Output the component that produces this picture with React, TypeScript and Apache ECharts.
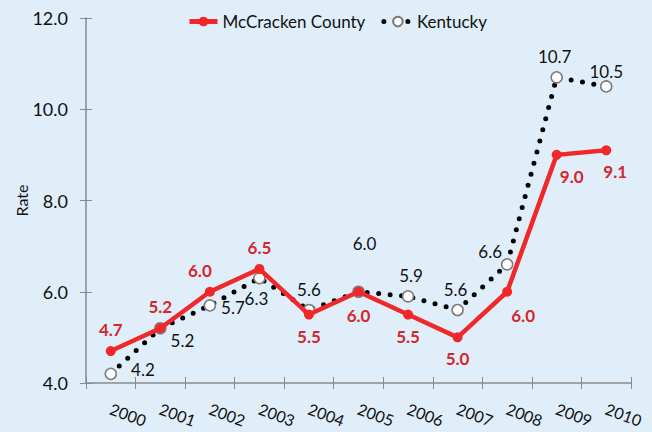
import React, { useEffect, useRef } from "react";
import * as echarts from "echarts";

const years = ["2000", "2001", "2002", "2003", "2004", "2005", "2006", "2007", "2008", "2009", "2010"];
const mccracken = [4.7, 5.2, 6.0, 6.5, 5.5, 6.0, 5.5, 5.0, 6.0, 9.0, 9.1];
const kentucky = [4.2, 5.2, 5.7, 6.3, 5.6, 6.0, 5.9, 5.6, 6.6, 10.7, 10.5];
const yTicks = [4, 6, 8, 10, 12];

// label placement (style, not data)
const mcLabelPos: [string, number, number][] = [
  ["top", 0, 0], ["top", 0, 0], ["top", -10, 0], ["top", 0, 0], ["bottom", 0, 0],
  ["bottom", 0, 2], ["bottom", 0, 0], ["bottom", 0, 0], ["bottom", 16, 2], ["bottom", 15, 0], ["bottom", 9, 0],
];
const kyLabelPos: [string, number, number][] = [
  ["right", 8, -4], ["right", -2, 12], ["right", -1, 2], ["bottom", -3, 0], ["top", 0, 0],
  ["top", 6, -28], ["top", 3, 0], ["top", -2, 0], ["top", -17, 8], ["top", -2, 0], ["top", 0, 6],
];

const FONT = "Lato, 'Noto Sans', sans-serif";

export default function App() {
  const ref = useRef<HTMLDivElement>(null);
  useEffect(() => {
    if (!ref.current) return;
    const chart = echarts.init(ref.current, null, { renderer: "svg" });
    const axisColor = "#8a8a8a";
    chart.setOption({
      animation: false,
      backgroundColor: "#e0eefa",
      textStyle: { fontFamily: FONT },
      legend: {
        top: 8,
        left: 182,
        itemWidth: 28,
        itemHeight: 12,
        itemGap: 16,
        textStyle: { fontSize: 17, color: "#111", fontFamily: FONT },
        data: [
          {
            name: "McCracken County",
            lineStyle: { color: "#f0282a", width: 5 },
          },
          {
            name: "Kentucky",
            lineStyle: { color: "#000", width: 5, type: [0, 12], cap: "round" },
          },
        ],
      },
      grid: { left: 86, right: 21, top: 18, bottom: 49 },
      xAxis: [
        {
          type: "category",
          data: years,
          boundaryGap: true,
          axisLine: { lineStyle: { color: axisColor, width: 1.5 } },
          axisTick: { show: true, length: 6, lineStyle: { color: axisColor } },
          axisLabel: {
            interval: 0,
            rotate: -20,
            margin: 25,
            fontSize: 16,
            color: "#111",
            fontFamily: FONT,
          },
        },
        {
          type: "category",
          data: years,
          position: "bottom",
          boundaryGap: true,
          axisLine: { show: false },
          axisTick: { show: true, inside: true, length: 6, lineStyle: { color: axisColor } },
          axisLabel: { show: false },
        },
      ],
      yAxis: [
        {
          type: "value",
          min: yTicks[0],
          max: yTicks[yTicks.length - 1],
          interval: 2,
          name: "Rate",
          nameLocation: "middle",
          nameGap: 57,
          nameMoveOverlap: false,
          nameTextStyle: { fontSize: 16, color: "#111", fontFamily: FONT },
          splitLine: { show: false },
          axisLine: { show: true, lineStyle: { color: axisColor, width: 1.5 } },
          axisTick: { show: true, length: 6, lineStyle: { color: axisColor } },
          axisLabel: {
            margin: 18,
            fontSize: 18,
            color: "#111",
            fontFamily: FONT,
            formatter: (v: number) => v.toFixed(1),
          },
        },
        {
          type: "value",
          min: yTicks[0],
          max: yTicks[yTicks.length - 1],
          interval: 2,
          position: "left",
          splitLine: { show: false },
          axisLine: { show: false },
          axisTick: { show: true, inside: true, length: 6, lineStyle: { color: axisColor } },
          axisLabel: { show: false },
        },
      ],
      series: [
        {
          name: "Kentucky",
          type: "line",
          z: 2,
          data: kentucky.map((v, i) => ({
            value: v,
            label: {
              position: kyLabelPos[i][0],
              offset: [kyLabelPos[i][1], kyLabelPos[i][2]],
            },
          })),
          symbol: "circle",
          symbolSize: 11,
          lineStyle: { color: "#000", width: 5, type: [0, 11.5], cap: "round" },
          itemStyle: { color: "#ffffff", borderColor: "#7a7a7a", borderWidth: 1.5 },
          label: {
            show: true,
            fontSize: 17,
            color: "#111",
            fontFamily: FONT,
            distance: 6,
            formatter: (p: any) => Number(p.value).toFixed(1),
          },
        },
        {
          name: "McCracken County",
          type: "line",
          z: 3,
          data: mccracken.map((v, i) => ({
            value: v,
            label: {
              position: mcLabelPos[i][0],
              offset: [mcLabelPos[i][1], mcLabelPos[i][2]],
            },
          })),
          symbol: "circle",
          symbolSize: 10,
          lineStyle: { color: "#f0282a", width: 4.5 },
          itemStyle: { color: "#f0282a" },
          label: {
            show: true,
            fontSize: 17,
            fontWeight: "bold",
            color: "#d4262d",
            fontFamily: FONT,
            distance: 8,
            formatter: (p: any) => Number(p.value).toFixed(1),
          },
        },
      ],
    });
    return () => chart.dispose();
  }, []);
  return <div ref={ref} style={{ width: 652, height: 432, position: "absolute", left: 0, top: 0 }} />;
}
